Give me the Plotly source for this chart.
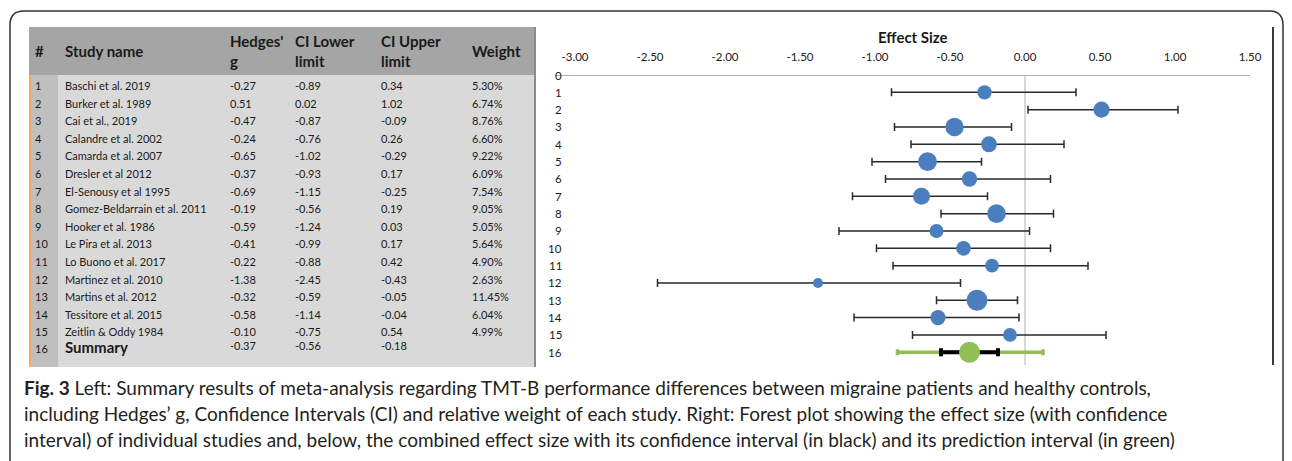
import math
import plotly.graph_objects as go

W, H = 1292, 461

# ---------------- data ----------------
row_ids = list(range(1, 17))
studies = ["Baschi et al. 2019", "Burker et al. 1989", "Cai et al., 2019", "Calandre et al. 2002",
           "Camarda et al. 2007", "Dresler et al 2012", "El-Senousy et al 1995",
           "Gomez-Beldarrain et al. 2011", "Hooker et al. 1986", "Le Pira et al. 2013",
           "Lo Buono et al. 2017", "Martinez et al. 2010", "Martins et al. 2012",
           "Tessitore et al. 2015", "Zeitlin & Oddy 1984"]
hedges_g = [-0.27, 0.51, -0.47, -0.24, -0.65, -0.37, -0.69, -0.19, -0.59, -0.41, -0.22, -1.38, -0.32, -0.58, -0.10]
ci_lower = [-0.89, 0.02, -0.87, -0.76, -1.02, -0.93, -1.15, -0.56, -1.24, -0.99, -0.88, -2.45, -0.59, -1.14, -0.75]
ci_upper = [0.34, 1.02, -0.09, 0.26, -0.29, 0.17, -0.25, 0.19, 0.03, 0.17, 0.42, -0.43, -0.05, -0.04, 0.54]
weights = [5.30, 6.74, 8.76, 6.60, 9.22, 6.09, 7.54, 9.05, 5.05, 5.64, 4.90, 2.63, 11.45, 6.04, 4.99]
summary_label = "Summary"
summary_g, summary_lower, summary_upper = -0.37, -0.56, -0.18
pi_lower, pi_upper = -0.85, 0.12
x_ticks = [-3.0, -2.5, -2.0, -1.5, -1.0, -0.5, 0.0, 0.5, 1.0, 1.5]
y_ticks = list(range(0, 17))
headers = ["#", "Study name", "Hedges'<br>g", "CI Lower<br>limit", "CI Upper<br>limit", "Weight"]
caption_lines = [
    "<b>Fig. 3</b> Left: Summary results of meta-analysis regarding TMT-B performance differences between migraine patients and healthy controls,",
    "including Hedges\u2019 g, Confidence Intervals (CI) and relative weight of each study. Right: Forest plot showing the effect size (with confidence",
    "interval) of individual studies and, below, the combined effect size with its confidence interval (in black) and its prediction interval (in green)",
]


def px(x):
    return x / W


def py(y):
    return 1 - y / H


BLUE = "#4a7ebf"
GREEN = "#92bf55"
TXT = "#1a1a1a"
TFONT = "Lato"

fig = go.Figure()

study_rows = row_ids[:15]
fig.add_trace(go.Scatter(
    x=hedges_g, y=study_rows, mode="markers",
    marker=dict(color=BLUE, opacity=1, size=[6.2 * math.sqrt(w) for w in weights], line=dict(width=0)),
    error_x=dict(type="data", symmetric=False,
                 array=[u - g for u, g in zip(ci_upper, hedges_g)],
                 arrayminus=[g - l for g, l in zip(hedges_g, ci_lower)],
                 color="#2a2a2a", thickness=1.5, width=4),
    showlegend=False, hoverinfo="skip"))

fig.add_trace(go.Scatter(
    x=[summary_g], y=[row_ids[15]], mode="markers",
    marker=dict(color="rgba(0,0,0,0)", size=1),
    error_x=dict(type="data", symmetric=False, array=[pi_upper - summary_g],
                 arrayminus=[summary_g - pi_lower], color=GREEN, thickness=3.5, width=3),
    showlegend=False, hoverinfo="skip"))
fig.add_trace(go.Scatter(
    x=[summary_g], y=[row_ids[15]], mode="markers",
    marker=dict(color=GREEN, opacity=1, size=21, line=dict(width=0)),
    error_x=dict(type="data", symmetric=False, array=[summary_upper - summary_g],
                 arrayminus=[summary_g - summary_lower], color="#000000", thickness=4, width=4),
    showlegend=False, hoverinfo="skip"))

x0_px, x1_px = 555, 1274
px_per_unit = 150.0
x_ref_px = 575
xr0 = x_ticks[0] - (x_ref_px - x0_px) / px_per_unit
xr1 = x_ticks[0] + (x1_px - x_ref_px) / px_per_unit
y_top_px, y_bot_px, row_px = 75, 365, 17.33
yr_bot = (y_bot_px - y_top_px) / row_px

fig.update_layout(
    width=W, height=H, margin=dict(l=0, r=0, t=0, b=0),
    paper_bgcolor="white", plot_bgcolor="rgba(0,0,0,0)",
    xaxis=dict(domain=[px(x0_px), px(x1_px)], range=[xr0, xr1], side="top",
               tickvals=x_ticks, ticktext=[f"{v:.2f}" for v in x_ticks],
               ticks="outside", ticklen=8, tickcolor="rgba(0,0,0,0)",
               tickfont=dict(family=TFONT, size=11.5, color=TXT),
               showgrid=False, zeroline=False, showline=False),
    yaxis=dict(domain=[py(y_bot_px), py(y_top_px)], range=[yr_bot, 0],
               showticklabels=False, ticks="", showgrid=False, zeroline=False, showline=False),
)

shapes = []
annotations = []

tl, tr = 29, 535
hdr_top, hdr_bot, body_bot = 27, 75, 367
strip_r = 58
shapes.append(dict(type="rect", xref="paper", yref="paper", x0=px(tl), x1=px(tr), y0=py(hdr_bot), y1=py(hdr_top),
                   fillcolor="#a5a5a5", line=dict(width=0), layer="below"))
shapes.append(dict(type="rect", xref="paper", yref="paper", x0=px(tl), x1=px(tr), y0=py(body_bot), y1=py(hdr_bot),
                   fillcolor="#d9d9d9", line=dict(width=0), layer="below"))
shapes.append(dict(type="rect", xref="paper", yref="paper", x0=px(tl), x1=px(strip_r), y0=py(body_bot), y1=py(hdr_bot),
                   fillcolor="#bfbfbf", line=dict(width=0), layer="below"))
shapes.append(dict(type="line", xref="paper", yref="paper", x0=px(tl + 1), x1=px(tl + 1), y0=py(body_bot), y1=py(hdr_bot),
                   line=dict(color="#f5a862", width=2)))
shapes.append(dict(type="line", xref="paper", yref="paper", x0=px(tr), x1=px(tr), y0=py(body_bot), y1=py(hdr_top),
                   line=dict(color="#8a8a8a", width=2)))

shapes.append(dict(type="line", xref="x", yref="y", x0=xr0, x1=x_ticks[-1], y0=0, y1=0,
                   line=dict(color="#9a9a9a", width=1.5), layer="below"))
shapes.append(dict(type="line", xref="x", yref="y", x0=0, x1=0, y0=0, y1=yr_bot,
                   line=dict(color="#b0b0b0", width=1), layer="below"))
shapes.append(dict(type="line", xref="paper", yref="paper", x0=px(1273), x1=px(1273), y0=py(365), y1=py(27),
                   line=dict(color="#3a3a3a", width=2)))

L, R, T, B, rr = 10, 1283, 11, 470, 14
path = (f"M {px(L)},{py(B)} L {px(L)},{py(T + rr)} Q {px(L)},{py(T)} {px(L + rr)},{py(T)} "
        f"L {px(R - rr)},{py(T)} Q {px(R)},{py(T)} {px(R)},{py(T + rr)} L {px(R)},{py(B)}")
shapes.append(dict(type="path", xref="paper", yref="paper", path=path, line=dict(color="#333333", width=1.5)))

col_x = [33, 63, 228, 293, 379, 470]
for hx, htxt in zip(col_x, headers):
    annotations.append(dict(xref="paper", yref="paper", x=px(hx), y=py(51), xanchor="left", yanchor="middle",
                            text=htxt, showarrow=False, align="left",
                            font=dict(family=TFONT, size=15, color=TXT, weight="bold")))

row_y0, row_dy = 85.5, 17.6
fs = 11
for i in range(15):
    yy = py(row_y0 + i * row_dy)
    vals = [str(row_ids[i]), studies[i], f"{hedges_g[i]:.2f}", f"{ci_lower[i]:.2f}", f"{ci_upper[i]:.2f}",
            f"{weights[i]:.2f}%"]
    for cx, v in zip(col_x, vals):
        annotations.append(dict(xref="paper", yref="paper", x=px(cx), y=yy, xanchor="left", yanchor="middle",
                                text=v, showarrow=False, font=dict(family=TFONT, size=fs, color=TXT)))
ys = row_y0 + 14 * row_dy
annotations.append(dict(xref="paper", yref="paper", x=px(col_x[0]), y=py(ys + 17), xanchor="left", yanchor="middle",
                        text=str(row_ids[15]), showarrow=False, font=dict(family=TFONT, size=fs, color=TXT)))
annotations.append(dict(xref="paper", yref="paper", x=px(col_x[1]), y=py(ys + 15.5), xanchor="left", yanchor="middle",
                        text=f"<b>{summary_label}</b>", showarrow=False, font=dict(family=TFONT, size=15, color=TXT)))
for cx, v in zip(col_x[2:5], [summary_g, summary_lower, summary_upper]):
    annotations.append(dict(xref="paper", yref="paper", x=px(cx), y=py(ys + 13.5), xanchor="left", yanchor="middle",
                            text=f"{v:.2f}", showarrow=False, font=dict(family=TFONT, size=fs, color=TXT)))

for k in y_ticks:
    annotations.append(dict(xref="paper", yref="y", x=px(564), y=k, xanchor="right", yanchor="middle",
                            text=str(k), showarrow=False, font=dict(family=TFONT, size=11.5, color=TXT)))

annotations.append(dict(xref="x", yref="paper", x=(x_ticks[0] + x_ticks[-1]) / 2, y=py(37), xanchor="center",
                        yanchor="middle", text="<b>Effect Size</b>", showarrow=False,
                        font=dict(family=TFONT, size=15, color=TXT)))

for i, line in enumerate(caption_lines):
    annotations.append(dict(xref="paper", yref="paper", x=px(22), y=py(387 + 26 * i), xanchor="left",
                            yanchor="middle", text=line, showarrow=False,
                            font=dict(family="Lato", size=19, color="#231f20")))

fig.update_layout(shapes=shapes, annotations=annotations)
fig.write_html("out.html")
